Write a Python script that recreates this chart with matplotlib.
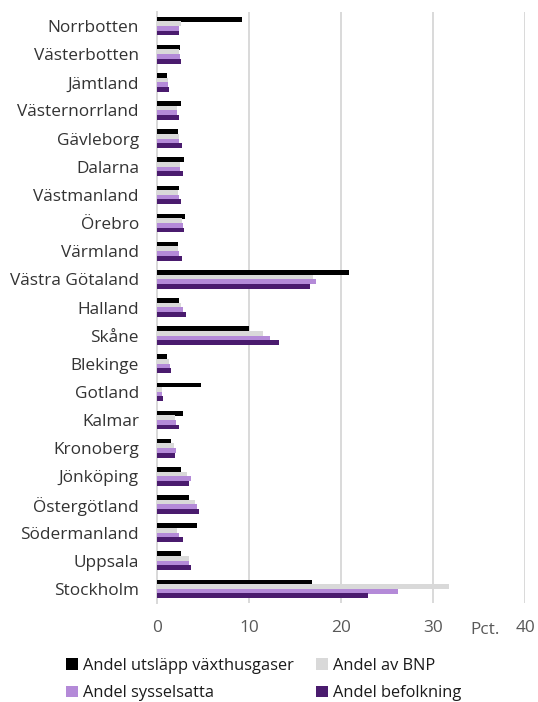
import numpy as np
import matplotlib
matplotlib.use("Agg")
import matplotlib.pyplot as plt

plt.rcParams['font.family'] = ['Open Sans', 'DejaVu Sans']

regioner = ["Norrbotten", "Västerbotten", "Jämtland", "Västernorrland", "Gävleborg",
            "Dalarna", "Västmanland", "Örebro", "Värmland", "Västra Götaland",
            "Halland", "Skåne", "Blekinge", "Gotland", "Kalmar", "Kronoberg",
            "Jönköping", "Östergötland", "Södermanland", "Uppsala", "Stockholm"]

utslapp = [9.2, 2.5, 1.1, 2.65, 2.25, 2.95, 2.35, 3.05, 2.25, 20.9,
           2.35, 10.0, 1.1, 4.8, 2.85, 1.5, 2.65, 3.5, 4.4, 2.65, 16.8]
bnp = [2.65, 2.4, 1.2, 2.2, 2.35, 2.45, 2.3, 2.7, 2.3, 16.95,
       2.65, 11.5, 1.3, 0.5, 2.0, 1.85, 3.25, 4.1, 2.2, 3.5, 31.7]
sysselsatta = [2.4, 2.45, 1.15, 2.2, 2.4, 2.5, 2.4, 2.8, 2.4, 17.25,
               2.8, 12.3, 1.4, 0.55, 2.1, 2.05, 3.7, 4.4, 2.35, 3.5, 26.2]
befolkning = [2.4, 2.65, 1.3, 2.4, 2.75, 2.8, 2.65, 2.9, 2.7, 16.65,
              3.15, 13.25, 1.55, 0.6, 2.35, 1.95, 3.5, 4.55, 2.85, 3.7, 22.9]

serier = [
    ("Andel utsläpp växthusgaser", utslapp, "#000000"),
    ("Andel av BNP", bnp, "#d9d9d9"),
    ("Andel sysselsatta", sysselsatta, "#b48ad8"),
    ("Andel befolkning", befolkning, "#4a1b6e"),
]

fig = plt.figure(figsize=(5.38, 7.02), dpi=100)
ax = fig.add_axes([157 / 538, 1 - 603 / 702, (525 - 157) / 538, (603 - 12) / 702])

y = np.arange(len(regioner))
h = 0.165
bars = []
for i, (namn, vals, farg) in enumerate(serier):
    b = ax.barh(y + (i - 1.5) * h, vals, height=h + 0.01, color=farg, zorder=3)
    bars.append(b)

ax.set_ylim(len(regioner) - 0.5, -0.5)
ax.set_xlim(0, 40)
ax.set_xticks([0, 10, 20, 30, 40])
ax.set_yticks(y)
ax.set_yticklabels(regioner, fontsize=12.4, color="#333333")
ax.tick_params(axis="y", length=0, pad=13)
ax.tick_params(axis="x", length=0, pad=12, labelsize=12.4, labelcolor="#595959")
ax.xaxis.grid(True, color="#d9d9d9", linewidth=1.4, zorder=0)
for s in ["top", "right", "bottom"]:
    ax.spines[s].set_visible(False)
ax.spines["left"].set_color("#d9d9d9")
ax.spines["left"].set_linewidth(1.4)

ax.text(35.7, -0.032, "Pct.", transform=ax.get_xaxis_transform(),
        ha="center", va="top", fontsize=12.4, color="#595959")

ordning = [0, 2, 1, 3]
fig.legend([bars[k] for k in ordning], [serier[k][0] for k in ordning],
           ncol=2, loc="upper center", bbox_to_anchor=(0.49, 0.084),
           frameon=False, fontsize=11.8, handlelength=0.7, handleheight=0.7,
           handletextpad=0.3, columnspacing=1.4, labelspacing=0.7,
           labelcolor="#1a1a1a")

fig.savefig("out.png", dpi=100)
